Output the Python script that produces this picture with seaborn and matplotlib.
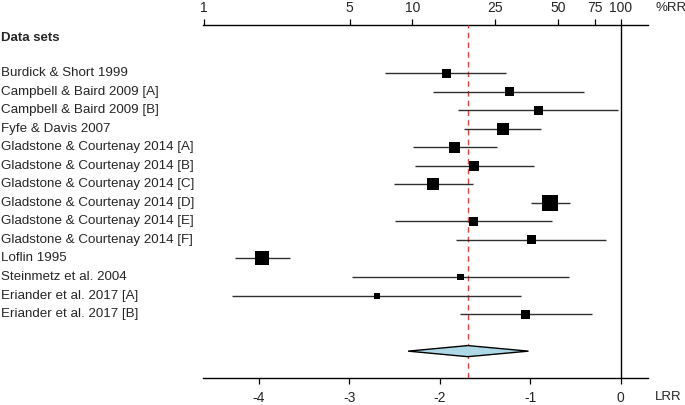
import numpy as np
import pandas as pd
import matplotlib
matplotlib.use("Agg")
import matplotlib.pyplot as plt
import matplotlib.transforms as mtransforms
import seaborn as sns

studies = [
    "Burdick & Short 1999",
    "Campbell & Baird 2009 [A]",
    "Campbell & Baird 2009 [B]",
    "Fyfe & Davis 2007",
    "Gladstone & Courtenay 2014 [A]",
    "Gladstone & Courtenay 2014 [B]",
    "Gladstone & Courtenay 2014 [C]",
    "Gladstone & Courtenay 2014 [D]",
    "Gladstone & Courtenay 2014 [E]",
    "Gladstone & Courtenay 2014 [F]",
    "Loflin 1995",
    "Steinmetz et al. 2004",
    "Eriander et al. 2017 [A]",
    "Eriander et al. 2017 [B]",
]
lrr = [-1.93, -1.23, -0.91, -1.30, -1.84, -1.62, -2.07, -0.78, -1.63, -0.99, -3.96, -1.77, -2.69, -1.05]
ci_low = [-2.60, -2.07, -1.80, -1.73, -2.30, -2.27, -2.51, -0.99, -2.49, -1.82, -4.26, -2.97, -4.29, -1.78]
ci_high = [-1.27, -0.41, -0.03, -0.88, -1.37, -0.96, -1.63, -0.56, -0.76, -0.16, -3.65, -0.57, -1.10, -0.32]
weight = [5.7, 5.7, 5.7, 10.1, 8.4, 7.0, 10.1, 17.9, 5.7, 5.7, 13.7, 3.4, 2.5, 5.7]

summary_est = -1.69
summary_low = -2.35
summary_high = -1.02

top_ticks = [1, 5, 10, 25, 50, 75, 100]
bottom_ticks = [-4, -3, -2, -1, 0]

sns.set_theme(style="white")
plt.rcParams["font.family"] = ["Liberation Sans", "DejaVu Sans"]

df = pd.DataFrame({"study": studies, "lrr": lrr, "lo": ci_low, "hi": ci_high,
                   "w": weight, "row": np.arange(len(studies))})

fig = plt.figure(figsize=(6.85, 4.05), dpi=100)
ax = fig.add_axes([203 / 685, 27 / 405, 445 / 685, 353 / 405])

# CI lines
ax.hlines(df["row"], df["lo"], df["hi"], color="#303030", lw=1.0, zorder=2)

# weighted squares
sns.scatterplot(data=df, x="lrr", y="row", size="w", sizes=(0, 148.4), size_norm=(0, 20),
                marker="s", color="black", linewidth=0, legend=False, ax=ax, zorder=3)

# summary diamond
srow = len(studies) + 1
h = 0.3
ax.fill([summary_low, summary_est, summary_high, summary_est],
        [srow, srow - h, srow, srow + h],
        facecolor="#add8e6", edgecolor="black", lw=1.0, zorder=3)

# reference lines
ax.axvline(0, color="black", lw=1.0, zorder=1)
ax.axvline(summary_est, color="#e0453f", lw=1.0, linestyle=(0, (4, 3)), zorder=1)

ax.set_xlim(np.log(0.01) - 0.01, 0.30)
ax.set_ylim(16.45, -2.6)
ax.set_ylabel("")
ax.set_xlabel("")
ax.set_yticks([])
ax.set_xticks(bottom_ticks)
ax.set_xticklabels([str(t) for t in bottom_ticks], fontsize=10)
ax.tick_params(axis="x", direction="out", length=4, width=0.9, color="black", pad=5,
               bottom=True, top=False)
for side in ["left", "right", "top"]:
    ax.spines[side].set_visible(False)
ax.spines["bottom"].set_color("black")
ax.spines["bottom"].set_linewidth(1.0)
ax.grid(False)

sec = ax.secondary_xaxis("top", functions=(lambda x: 100 * np.exp(x),
                                           lambda p: np.log(np.clip(p, 1e-9, None) / 100)))
sec.set_xticks(top_ticks)
sec.set_xticklabels([str(t) for t in top_ticks], fontsize=10)
sec.tick_params(axis="x", direction="out", length=4, width=0.9, color="black", pad=3)
sec.spines["top"].set_color("black")
sec.spines["top"].set_linewidth(1.0)

# row labels
trans = mtransforms.blended_transform_factory(fig.transFigure, ax.transData)
ax.text(1 / 685, -1.9, "Data sets", transform=trans, ha="left", va="center",
        fontsize=9.5, fontweight="bold")
for s, r in zip(studies, df["row"]):
    ax.text(1 / 685, r, s, transform=trans, ha="left", va="center", fontsize=9.6)

fig.text(655 / 685, 1 - 8 / 405, "%RR", ha="left", va="center", fontsize=9.5)
fig.text(655 / 685, 1 - 397 / 405, "LRR", ha="left", va="center", fontsize=9.5)

fig.savefig("out.png", dpi=100)
